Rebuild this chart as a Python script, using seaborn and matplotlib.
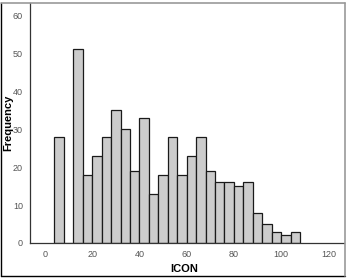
import numpy as np
import pandas as pd
import matplotlib
matplotlib.use("Agg")
import matplotlib.pyplot as plt
import seaborn as sns
from matplotlib.lines import Line2D

# Data: histogram bins (left edges, width 4) and frequencies
bin_left = [4, 8, 12, 16, 20, 24, 28, 32, 36, 40, 44, 48, 52, 56, 60, 64, 68, 72, 76, 80, 84, 88, 92, 96, 100, 104]
counts = [28, 0, 51, 18, 23, 28, 35, 30, 19, 33, 13, 18, 28, 18, 23, 28, 19, 16, 16, 15, 16, 8, 5, 3, 2, 3]
x_ticks = [0, 20, 40, 60, 80, 100, 120]
y_ticks = [0, 10, 20, 30, 40, 50, 60]

bin_width = 4
edges = list(bin_left) + [bin_left[-1] + bin_width]
df = pd.DataFrame({"ICON": [b + bin_width / 2 for b in bin_left], "w": counts})

sns.set_style("white")
plt.rcParams['font.family'] = ['Arial', 'Liberation Sans', 'DejaVu Sans']

fig = plt.figure(figsize=(3.47, 2.78), dpi=100)
ax = fig.add_axes([30 / 347, 35 / 278, 314 / 347, 240 / 278])

sns.histplot(data=df, x="ICON", weights="w", bins=edges, ax=ax,
             color="#cccccc", edgecolor="#1a1a1a", linewidth=0.9, alpha=1)

ax.set_xlim(-6.35, 126.6)
ax.set_ylim(0, 63.2)
ax.set_xticks(x_ticks)
ax.set_yticks(y_ticks)
ax.tick_params(axis="both", direction="out", length=3, width=0.8,
               colors="#555555", labelsize=6.5, pad=2)

for s in ["top", "right"]:
    ax.spines[s].set_visible(False)
for s in ["left", "bottom"]:
    ax.spines[s].set_color("#333333")
    ax.spines[s].set_linewidth(0.9)

ax.set_xlabel("ICON", fontsize=8, fontweight="bold", color="black")
ax.set_ylabel("Frequency", fontsize=8, fontweight="bold", color="black")
ax.xaxis.set_label_coords(0.49, -0.088)
ax.yaxis.set_label_coords(-0.052, 0.5)

# Figure frame: grey top/right, black left/bottom
fig.add_artist(Line2D([0.5 / 347, 0.5 / 347], [2.5 / 278, 275 / 278], transform=fig.transFigure, color="black", lw=1))
fig.add_artist(Line2D([0.5 / 347, 344.5 / 347], [2.5 / 278, 2.5 / 278], transform=fig.transFigure, color="black", lw=1))
fig.add_artist(Line2D([0.5 / 347, 344.5 / 347], [275 / 278, 275 / 278], transform=fig.transFigure, color="#999999", lw=1.2))
fig.add_artist(Line2D([344.5 / 347, 344.5 / 347], [2.5 / 278, 275 / 278], transform=fig.transFigure, color="#999999", lw=1.2))

fig.savefig("out.png", dpi=100)
